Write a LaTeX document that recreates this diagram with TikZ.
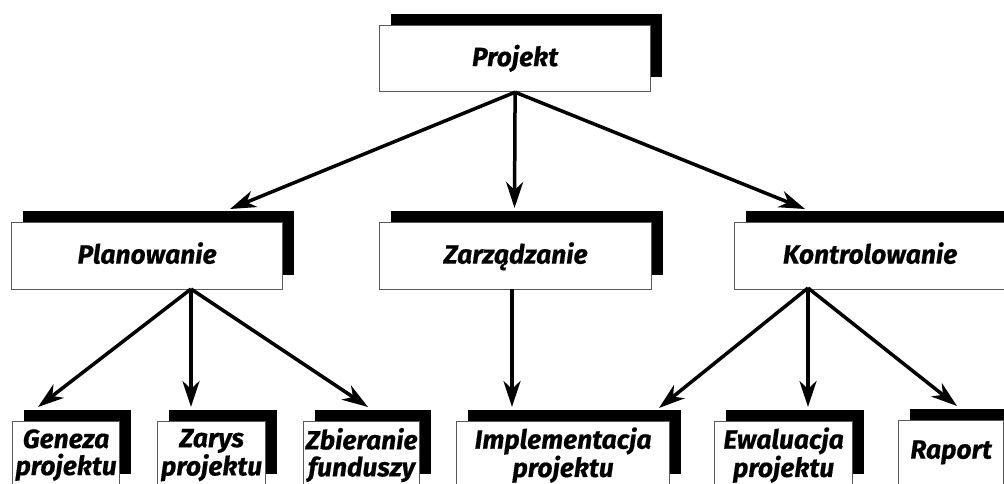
\documentclass[tikz,border=0pt]{standalone}
\usepackage{fontspec}
\setmainfont{Fira Sans}[BoldItalicFeatures={FakeBold=0.5}]
\usetikzlibrary{arrows.meta,calc}
\pgfdeclarelayer{shadows}
\pgfsetlayers{shadows,main}

\tikzset{
  box/.style={draw=black!65, line width=1.2pt, fill=white, inner sep=0pt,
    anchor=north west, align=center, text height=19pt, text depth=4pt,
    font=\fontsize{26.4}{27}\selectfont\bfseries\itshape},
  twoline/.style={box, text height=, text depth=},
  link/.style={line width=3.5pt, -{Stealth[length=26pt,width=17pt,inset=8pt]}},
  drop/.style={fill=black},
}

\begin{document}
\begin{tikzpicture}[x=1pt,y=-1pt]
\useasboundingbox (0,0) rectangle (1004,484);
\clip (0,0) rectangle (1004,484);

% top level
\node[box, minimum width=271pt, minimum height=66pt] (proj) at (379,25) {Projekt};

% second level
\node[box, minimum width=271pt, minimum height=67pt] (plan)  at (11,222)  {Planowanie};
\node[box, minimum width=272pt, minimum height=67pt] (zarz)  at (379,222) {Zarządzanie};
\node[box, minimum width=271pt, minimum height=67pt] (kontr) at (734,222) {Kontrolowanie};

% third level
\node[twoline, minimum width=107pt, minimum height=67pt] (gen) at (12,421)  {Geneza\\projektu};
\node[twoline, minimum width=108pt, minimum height=67pt] (zar) at (157,421) {Zarys\\projektu};
\node[twoline, minimum width=116pt, minimum height=67pt] (zbi) at (303,421) {Zbieranie\\funduszy};
\node[twoline, minimum width=213pt, minimum height=67pt] (imp) at (456,421) {Implementacja\\projektu};
\node[twoline, minimum width=138pt, minimum height=67pt] (ewa) at (714,421) {Ewaluacja\\projektu};
\node[box, minimum width=105pt, minimum height=68pt, text depth=11pt] (rap) at (898,420) {Raport};

% drop shadows behind every box
\begin{pgfonlayer}{shadows}
\foreach \n in {proj,plan,zarz,kontr,gen,zar,zbi,imp,ewa,rap}
  \fill[drop] ($(\n.north west)+(12,-11)$) rectangle ($(\n.south east)+(11,-15)$);
\end{pgfonlayer}

% connector ports
\coordinate (plan-in)  at (230,209);
\coordinate (zarz-in)  at (514.5,208);
\coordinate (kontr-in) at (805,209);
\coordinate (plan-out) at (191,289);
\coordinate (zarz-out) at (512,289);
\coordinate (kontr-out) at (808,288);
\coordinate (gen-in) at (38,407);
\coordinate (zar-in) at (191,407);
\coordinate (zbi-in) at (368,407);
\coordinate (imp-in) at (512,407);
\coordinate (imp-in2) at (659,408);
\coordinate (ewa-in) at (808,407);
\coordinate (rap-in) at (957,406);

% connectors
\draw[link] (proj.south) -- (plan-in);
\draw[link] (proj.south) -- (zarz-in);
\draw[link] (proj.south) -- (kontr-in);
\draw[link] (plan-out) -- (gen-in);
\draw[link] (plan-out) -- (zar-in);
\draw[link] (plan-out) -- (zbi-in);
\draw[link] (zarz-out) -- (imp-in);
\draw[link] (kontr-out) -- (imp-in2);
\draw[link] (kontr-out) -- (ewa-in);
\draw[link] (kontr-out) -- (rap-in);
\end{tikzpicture}
\end{document}
